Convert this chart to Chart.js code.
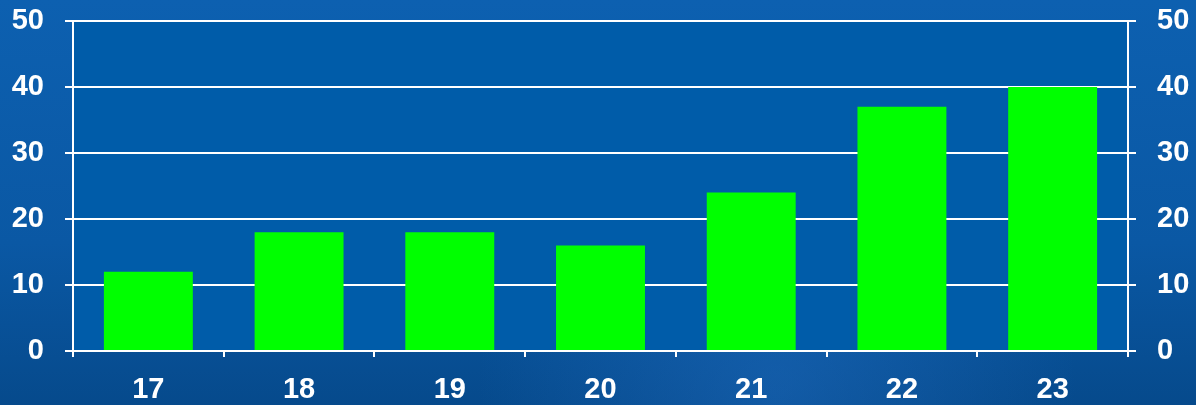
<!DOCTYPE html>
<html>
<head>
<meta charset="utf-8">
<script src="https://cdn.jsdelivr.net/npm/chart.js@4/dist/chart.umd.min.js"></script>
<style>
html,body{margin:0;padding:0;background:#0a57a3;}
#wrap{width:1196px;height:405px;position:relative;}
</style>
</head>
<body>
<div id="wrap"><canvas id="c"></canvas></div>
<script>
const categories = ['17', '18', '19', '20', '21', '22', '23'];
const values = [12, 18, 18, 16, 24, 37, 40];
const yTicks = [0, 10, 20, 30, 40, 50];

const bgPlugin = {
  id: 'bg',
  beforeDraw(chart) {
    const ctx = chart.ctx;
    const w = chart.width, h = chart.height;
    ctx.save();
    const g = ctx.createLinearGradient(0, 0, 0, h);
    g.addColorStop(0, '#0d60b0');
    g.addColorStop(0.6, '#0a58a4');
    g.addColorStop(1, '#064a8c');
    ctx.fillStyle = g;
    ctx.fillRect(0, 0, w, h);
    const r = ctx.createRadialGradient(w * 0.65, h * 0.95, 10, w * 0.65, h * 0.95, 300);
    r.addColorStop(0, 'rgba(40,120,210,0.35)');
    r.addColorStop(1, 'rgba(40,120,210,0)');
    ctx.fillStyle = r;
    ctx.fillRect(0, 0, w, h);
    const a = chart.chartArea;
    ctx.fillStyle = '#005ca9';
    ctx.fillRect(a.left, a.top, a.right - a.left, a.bottom - a.top);
    ctx.restore();
  }
};

const font = { family: '"Liberation Sans", Arial, sans-serif', size: 29, weight: 'bold' };

function fixY(width) {
  return function (s) {
    s.width = width;
    s.paddingTop = 0;
    s.paddingBottom = 0;
  };
}

new Chart(document.getElementById('c'), {
  type: 'bar',
  data: {
    labels: categories,
    datasets: [{
      data: values,
      backgroundColor: '#00ff00',
      borderWidth: 0,
      categoryPercentage: 1.0,
      barPercentage: 0.59,
      yAxisID: 'y'
    }]
  },
  options: {
    responsive: true,
    maintainAspectRatio: false,
    animation: false,
    layout: { padding: { top: 21, left: 0, right: 0, bottom: 0 } },
    plugins: { legend: { display: false }, tooltip: { enabled: false } },
    scales: {
      x: {
        grid: { display: true, drawOnChartArea: false, drawTicks: true, tickLength: 6, color: '#ffffff', lineWidth: 2, offset: true },
        border: { display: true, color: '#ffffff', width: 2 },
        ticks: { color: '#ffffff', font: font, padding: 16, maxRotation: 0 },
        afterFit(s) { s.height = 54; s.paddingLeft = 0; s.paddingRight = 0; }
      },
      y: {
        position: 'left',
        min: 0, max: 50,
        afterBuildTicks(s) { s.ticks = yTicks.map(v => ({ value: v })); },
        grid: { color: '#ffffff', lineWidth: 2, tickLength: 8, drawTicks: true },
        border: { display: true, color: '#ffffff', width: 2 },
        ticks: { color: '#ffffff', font: font, padding: 21 },
        afterFit: fixY(73)
      },
      y2: {
        position: 'right',
        min: 0, max: 50,
        afterBuildTicks(s) { s.ticks = yTicks.map(v => ({ value: v })); },
        grid: { drawOnChartArea: false, color: '#ffffff', lineWidth: 2, tickLength: 8, drawTicks: true },
        border: { display: true, color: '#ffffff', width: 2 },
        ticks: { color: '#ffffff', font: font, padding: 21 },
        afterFit: fixY(68)
      }
    }
  },
  plugins: [bgPlugin]
});
</script>
</body>
</html>
